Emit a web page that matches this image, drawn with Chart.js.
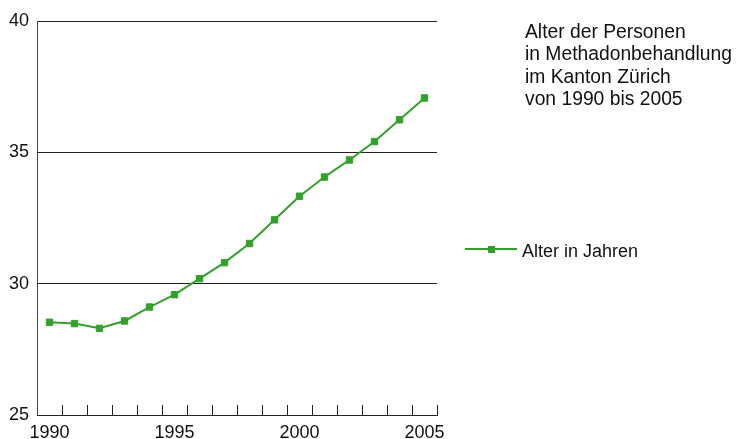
<!DOCTYPE html>
<html>
<head>
<meta charset="utf-8">
<script src="https://cdn.jsdelivr.net/npm/chart.js@4/dist/chart.umd.min.js"></script>
<style>
  html, body { margin: 0; padding: 0; background: #fff; }
  #wrap { position: relative; width: 736px; height: 439px; overflow: hidden; font-family: "Liberation Sans", Arial, sans-serif; color: #111; }
  #c { position: absolute; left: 0; top: 0; }
  #title { position: absolute; left: 525px; top: 21px; font-size: 19.3px; line-height: 22.3px; white-space: nowrap; }
  #legend { position: absolute; left: 0; top: 0; }
  #legLine { position: absolute; left: 465px; top: 248px; width: 52px; height: 2px; background: #33a02c; }
  #legBox { position: absolute; left: 488px; top: 245.5px; width: 7px; height: 7px; background: #33a02c; }
  #legText { position: absolute; left: 522px; top: 239.5px; font-size: 18px; line-height: 22px; white-space: nowrap; }
</style>
</head>
<body>
<div id="wrap">
  <canvas id="c" width="736" height="439"></canvas>
  <div id="title">Alter der Personen<br>in Methadonbehandlung<br>im Kanton Zürich<br>von 1990 bis 2005</div>
  <div id="legend"><div id="legLine"></div><div id="legBox"></div><div id="legText">Alter in Jahren</div></div>
</div>
<script>
const years = ['1990','1991','1992','1993','1994','1995','1996','1997','1998','1999','2000','2001','2002','2003','2004','2005'];
const ageValues = [28.53, 28.48, 28.30, 28.58, 29.11, 29.58, 30.19, 30.80, 31.53, 32.43, 33.33, 34.06, 34.71, 35.41, 36.24, 37.07];
const shownXLabels = ['1990','1995','2000','2005'];
const yTicks = [25, 30, 35, 40];
const seriesName = 'Alter in Jahren';

const green = '#33a02c';
const font = { family: '"Liberation Sans", Arial, sans-serif', size: 18 };

new Chart(document.getElementById('c'), {
  type: 'line',
  data: {
    labels: years,
    datasets: [{
      label: seriesName,
      data: ageValues,
      borderColor: green,
      backgroundColor: green,
      borderWidth: 2,
      pointStyle: 'rect',
      pointRadius: 4.5,
      pointBorderWidth: 1,
      pointBorderColor: green,
      pointBackgroundColor: green,
      tension: 0,
      fill: false
    }]
  },
  options: {
    responsive: false,
    animation: false,
    devicePixelRatio: 1,
    layout: { padding: { left: 0, top: 21, right: 299, bottom: 0 } },
    plugins: { legend: { display: false }, tooltip: { enabled: false }, title: { display: false } },
    scales: {
      x: {
        type: 'category',
        offset: true,
        grid: { offset: true, drawOnChartArea: false, drawTicks: true, tickLength: -10, color: '#222', lineWidth: 1 },
        border: { display: true, color: '#222', width: 1 },
        ticks: {
          autoSkip: false, maxRotation: 0, minRotation: 0, padding: 17,
          color: '#111', font: font,
          callback: function(v, i) { const l = this.getLabelForValue(v); return shownXLabels.includes(l) ? l : ''; }
        },
        afterFit: function(s) { s.height = 24; }
      },
      y: {
        min: 25, max: 40,
        afterBuildTicks: function(s) { s.ticks = yTicks.map(v => ({ value: v })); },
        grid: { drawTicks: false, color: '#222', lineWidth: 1 },
        border: { display: true, color: '#444', width: 1 },
        ticks: { padding: 8, color: '#111', font: font },
        afterFit: function(s) { s.width = 37; }
      }
    }
  }
});
</script>
</body>
</html>
